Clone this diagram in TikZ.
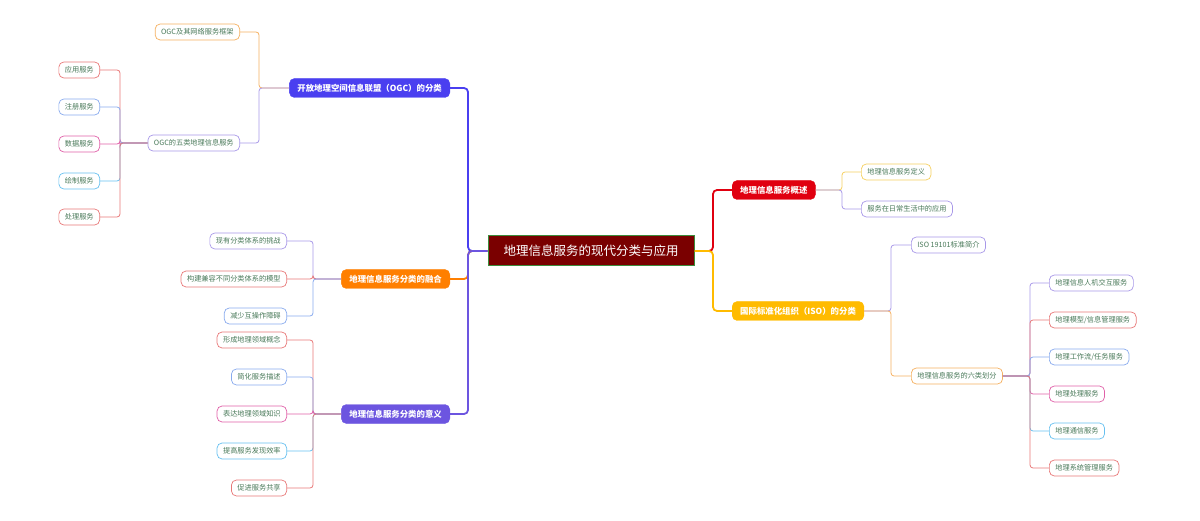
\documentclass[tikz,border=0pt]{standalone}
\usepackage{fontspec}
\setmainfont{Noto Sans CJK SC}
\usetikzlibrary{positioning}
\definecolor{rootred}{HTML}{7A0000}
\definecolor{rootgreen}{HTML}{3C8C3C}
\definecolor{cblue}{HTML}{4A3FF0}
\definecolor{corange}{HTML}{FF7F00}
\definecolor{cpurple}{HTML}{6C55E0}
\definecolor{cred}{HTML}{E00010}
\definecolor{cyellow}{HTML}{FFBB00}
\definecolor{lorange}{HTML}{F5B060}
\definecolor{lpurple}{HTML}{A898E8}
\definecolor{lred}{HTML}{E87878}
\definecolor{lblue}{HTML}{88AAEE}
\definecolor{lpink}{HTML}{E060A8}
\definecolor{lcyan}{HTML}{66C0F0}
\definecolor{lyellow}{HTML}{F5D060}
\definecolor{leaftext}{HTML}{4A7A5A}
\tikzset{
  main/.style={fill=#1, draw=#1, text=white, rounded corners=5pt, minimum height=19pt,
    inner xsep=8pt, font=\fontsize{8.4}{9}\selectfont\bfseries},
  leaf/.style={draw=#1, fill=white, text=leaftext, rounded corners=5pt, line width=0.7pt,
    minimum height=16pt, inner xsep=6pt, font=\fontsize{7.2}{8}\selectfont},
  link/.style={draw=#1, line width=0.8pt, rounded corners=3pt},
  trunk/.style={draw=#1, line width=1.8pt, rounded corners=4pt}
}
\begin{document}
\begin{tikzpicture}[x=1pt,y=-1pt]
  \useasboundingbox (0,0) rectangle (1200,521);

  % root
  \node[fill=rootred, draw=rootgreen, line width=1pt, text=white, minimum width=206pt,
    minimum height=30pt, font=\fontsize{12.5}{13}\selectfont] (root) at (591,251) {地理信息服务的现代分类与应用};

  % main branches
  \node[main=cblue, anchor=east] (ogc) at (450,88) {开放地理空间信息联盟（OGC）的分类};
  \node[main=corange, anchor=east] (fuse) at (450,279) {地理信息服务分类的融合};
  \node[main=cpurple, anchor=east] (mean) at (450,414) {地理信息服务分类的意义};
  \node[main=cred, anchor=west] (intro) at (732,190) {地理信息服务概述};
  \node[main=cyellow, anchor=west] (iso) at (732,311) {国际标准化组织（ISO）的分类};

  \foreach \m/\c in {ogc/cblue, fuse/corange, mean/cpurple}
    \draw[trunk=\c] (root.west) -| ([xshift=18pt]\m.east) -- (\m.east);
  \foreach \m/\c in {intro/cred, iso/cyellow}
    \draw[trunk=\c] (root.east) -| ([xshift=-19pt]\m.west) -- (\m.west);

  % OGC
  \node[leaf=lorange, anchor=east] (ogcnet) at (240,32) {OGC及其网络服务框架};
  \node[leaf=lpurple, anchor=east] (ogcfive) at (240,143) {OGC的五类地理信息服务};
  \draw[link=lorange] (ogc.west) -| ([xshift=19pt]ogcnet.east) -- (ogcnet.east);
  \draw[link=lpurple] (ogc.west) -| ([xshift=19pt]ogcfive.east) -- (ogcfive.east);
  \foreach \n/\t/\c/\y in {f1/应用服务/lred/70, f2/注册服务/lblue/107, f3/数据服务/lpink/144,
      f4/绘制服务/lcyan/181, f5/处理服务/lred/217} {
    \node[leaf=\c, anchor=east] (\n) at (100,\y) {\t};
    \draw[link=\c] (ogcfive.west) -| ([xshift=20pt]\n.east) -- (\n.east);
  }

  % fusion
  \foreach \n/\t/\c/\y in {u1/现有分类体系的挑战/lpurple/241, u2/构建兼容不同分类体系的模型/lred/279,
      u3/减少互操作障碍/lblue/316} {
    \node[leaf=\c, anchor=east] (\n) at (287,\y) {\t};
    \draw[link=\c] (fuse.west) -| ([xshift=26pt]\n.east) -- (\n.east);
  }

  % meaning
  \foreach \n/\t/\c/\y in {s1/形成地理领域概念/lred/340, s2/简化服务描述/lblue/377,
      s3/表达地理领域知识/lpink/414, s4/提高服务发现效率/lcyan/451, s5/促进服务共享/lred/488} {
    \node[leaf=\c, anchor=east] (\n) at (287,\y) {\t};
    \draw[link=\c] (mean.west) -| ([xshift=26pt]\n.east) -- (\n.east);
  }

  % overview
  \node[leaf=lyellow, anchor=west] (def) at (861,172) {地理信息服务定义};
  \node[leaf=lpurple, anchor=west] (daily) at (861,209) {服务在日常生活中的应用};
  \draw[link=lyellow] (intro.east) -| ([xshift=-19pt]def.west) -- (def.west);
  \draw[link=lpurple] (intro.east) -| ([xshift=-19pt]daily.west) -- (daily.west);

  % ISO
  \node[leaf=lpurple, anchor=west] (std) at (911,245) {ISO 19101标准简介};
  \node[leaf=lorange, anchor=west] (six) at (911,376) {地理信息服务的六类划分};
  \draw[link=lpurple] (iso.east) -| ([xshift=-20pt]std.west) -- (std.west);
  \draw[link=lorange] (iso.east) -| ([xshift=-20pt]six.west) -- (six.west);
  \foreach \n/\t/\c/\y in {x1/地理信息人机交互服务/lpurple/283, x2/{地理模型/信息管理服务}/lred/320,
      x3/{地理工作流/任务服务}/lblue/357, x4/地理处理服务/lpink/394, x5/地理通信服务/lcyan/431,
      x6/地理系统管理服务/lred/468} {
    \node[leaf=\c, anchor=west] (\n) at (1049,\y) {\t};
    \draw[link=\c] (six.east) -| ([xshift=-19pt]\n.west) -- (\n.west);
  }
\end{tikzpicture}
\end{document}
